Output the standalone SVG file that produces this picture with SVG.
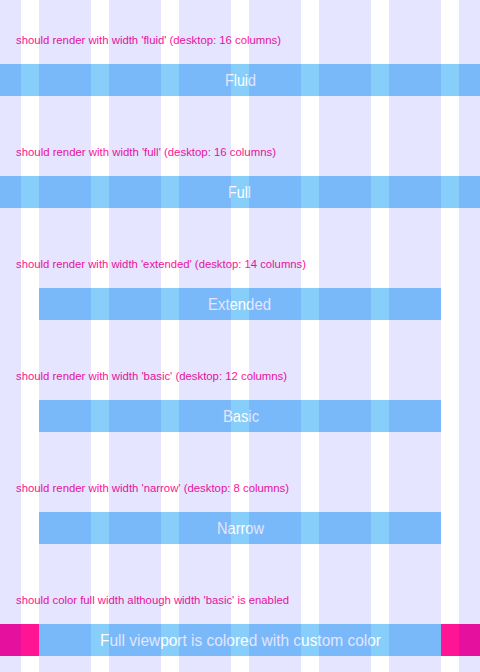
<svg xmlns="http://www.w3.org/2000/svg" width="480" height="672" viewBox="0 0 480 672">
<style>
.lbl{font-family:"Liberation Sans",Arial,sans-serif;font-size:11.33px;fill:#ff1493}
.bar{fill:#87cefa}
.bt{font-family:"Liberation Sans",Arial,sans-serif;font-size:17px;fill:#ffffff;text-anchor:middle}
.pink{fill:#ff1493}
.col{fill:#0000ff;fill-opacity:0.1}
</style>
<rect x="0" y="0" width="480" height="672" fill="#ffffff"/>
<g id="row-fluid">
<text class="lbl" x="16" y="44" textLength="265" lengthAdjust="spacingAndGlyphs">should render with width 'fluid' (desktop: 16 columns)</text>
<rect class="bar" x="0" y="64" width="480" height="32"/>
<text class="bt" x="240.5" y="86" textLength="31" lengthAdjust="spacingAndGlyphs">Fluid</text>
</g>
<g id="row-full">
<text class="lbl" x="16" y="156" textLength="260" lengthAdjust="spacingAndGlyphs">should render with width 'full' (desktop: 16 columns)</text>
<rect class="bar" x="0" y="176" width="480" height="32"/>
<text class="bt" x="239.5" y="198" textLength="23" lengthAdjust="spacingAndGlyphs">Full</text>
</g>
<g id="row-extended">
<text class="lbl" x="16" y="268" textLength="290" lengthAdjust="spacingAndGlyphs">should render with width 'extended' (desktop: 14 columns)</text>
<rect class="bar" x="39" y="288" width="402" height="32"/>
<text class="bt" x="239.5" y="310" textLength="63" lengthAdjust="spacingAndGlyphs">Extended</text>
</g>
<g id="row-basic">
<text class="lbl" x="16" y="380" textLength="271" lengthAdjust="spacingAndGlyphs">should render with width 'basic' (desktop: 12 columns)</text>
<rect class="bar" x="39" y="400" width="402" height="32"/>
<text class="bt" x="241" y="422" textLength="36" lengthAdjust="spacingAndGlyphs">Basic</text>
</g>
<g id="row-narrow">
<text class="lbl" x="16" y="492" textLength="273" lengthAdjust="spacingAndGlyphs">should render with width 'narrow' (desktop: 8 columns)</text>
<rect class="bar" x="39" y="512" width="402" height="32"/>
<text class="bt" x="240.5" y="534" textLength="47" lengthAdjust="spacingAndGlyphs">Narrow</text>
</g>
<g id="row-custom">
<text class="lbl" x="16" y="604" textLength="273" lengthAdjust="spacingAndGlyphs">should color full width although width 'basic' is enabled</text>
<rect class="pink" x="0" y="624" width="39" height="32"/>
<rect class="pink" x="441" y="624" width="39" height="32"/>
<rect class="bar" x="39" y="624" width="402" height="32"/>
<text class="bt" x="240.5" y="646" textLength="281" lengthAdjust="spacingAndGlyphs">Full viewport is colored with custom color</text>
</g>
<g id="grid-overlay">
<rect class="col" x="0" y="0" width="21" height="672"/>
<rect class="col" x="39" y="0" width="52" height="672"/>
<rect class="col" x="109" y="0" width="52" height="672"/>
<rect class="col" x="179" y="0" width="52" height="672"/>
<rect class="col" x="249" y="0" width="52" height="672"/>
<rect class="col" x="319" y="0" width="52" height="672"/>
<rect class="col" x="389" y="0" width="52" height="672"/>
<rect class="col" x="459" y="0" width="21" height="672"/>
</g>
</svg>
